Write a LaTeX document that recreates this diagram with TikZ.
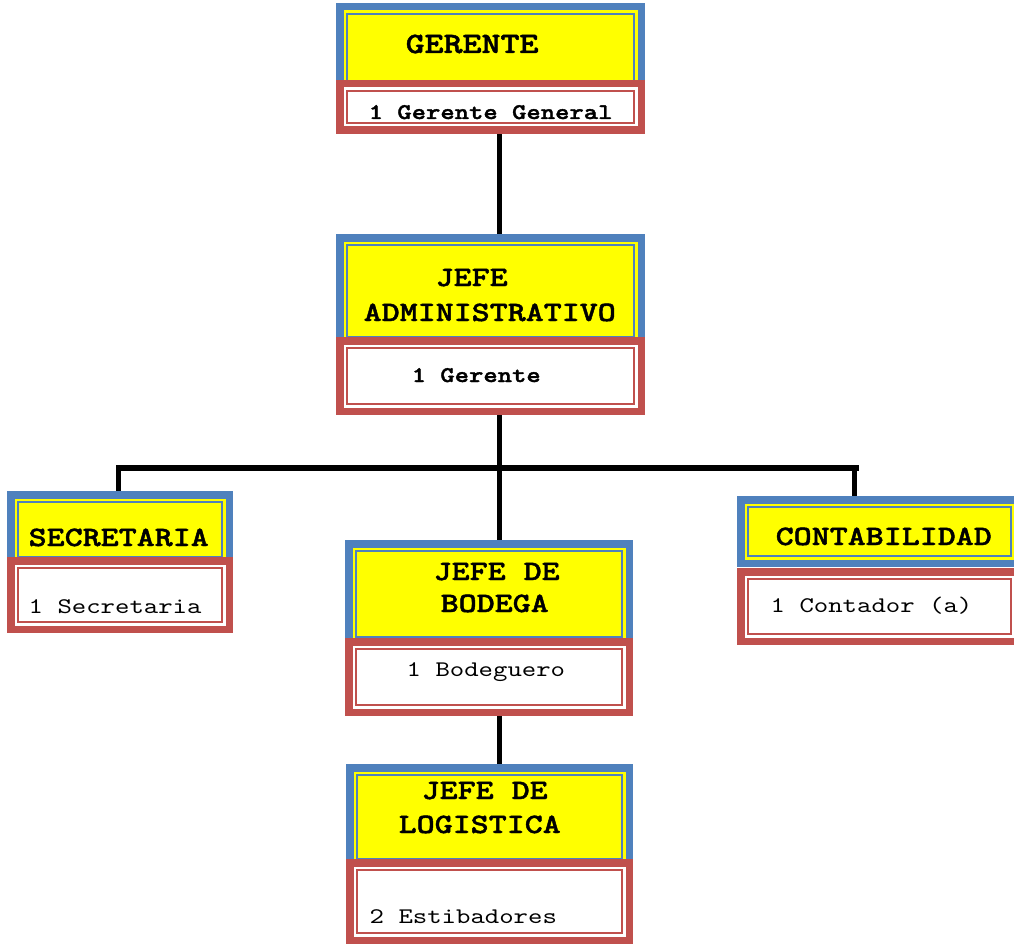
\documentclass[tikz,border=0pt]{standalone}
\usepackage{fontspec}
% slab-serif typewriter faces, widened to the proportions of a Courier-style face
\newfontfamily\orgfont{lmmono10-regular.otf}[FakeStretch=1.23]
\newfontfamily\orgboldfont{lmmonolt10-bold.otf}[FakeStretch=1.225, FakeBold=1.6]
\usetikzlibrary{backgrounds}
\definecolor{hblue}{HTML}{4F81BD}
\definecolor{hred}{HTML}{C0504D}
\definecolor{hyellow}{HTML}{FFFF00}

\tikzset{
  % box with a thick outer border and a thin inner border line
  tier/.style 2 args={rectangle, anchor=north west, inner sep=0pt, outer sep=0pt,
    draw=#1, fill=#2, line width=7.5pt,
    path picture={\draw[#1, line width=2.4pt]
      ([shift={(7.2pt,7.2pt)}]path picture bounding box.south west) rectangle
      ([shift={(-7.2pt,-7.2pt)}]path picture bounding box.north east);}},
  headbox/.style={tier={hblue}{hyellow}},
  staffbox/.style={tier={hred}{white}},
  title/.style={anchor=base west, inner sep=0pt, font=\orgboldfont\fontsize{28}{32}\selectfont},
  bigtitle/.style={title, font=\orgboldfont\fontsize{29.5}{34}\selectfont},
  staff/.style={anchor=base west, inner sep=0pt, font=\orgfont\fontsize{22.3}{26}\selectfont},
  staffbold/.style={staff, font=\orgboldfont\fontsize{22.3}{26}\selectfont},
  link/.style={line width=5pt, black},
  barlink/.style={line width=6pt, black},
}

\begin{document}
\begin{tikzpicture}[x=1pt,y=-1pt]
\useasboundingbox (0,0) rectangle (1014,944);

% GERENTE
\node[headbox,  minimum width=301.5pt, minimum height=81.5pt]  (gerH) at (339.75,6.75) {};
\node[staffbox, minimum width=301.5pt, minimum height=46.5pt]  (gerS) at (339.75,83.75) {};
% JEFE ADMINISTRATIVO
\node[headbox,  minimum width=301.5pt, minimum height=106.5pt] (admH) at (339.75,237.75) {};
\node[staffbox, minimum width=301.5pt, minimum height=70.5pt]  (admS) at (339.75,340.75) {};
% SECRETARIA
\node[headbox,  minimum width=218.5pt, minimum height=69.5pt]  (secH) at (10.75,494.75) {};
\node[staffbox, minimum width=218.5pt, minimum height=68.5pt]  (secS) at (10.75,560.75) {};
% JEFE DE BODEGA
\node[headbox,  minimum width=280.5pt, minimum height=100.5pt] (bodH) at (348.75,543.75) {};
\node[staffbox, minimum width=280.5pt, minimum height=70.5pt]  (bodS) at (348.75,641.75) {};
% CONTABILIDAD
\node[headbox,  minimum width=277.5pt, minimum height=63.5pt]  (conH) at (740.75,499.75) {};
\node[staffbox, minimum width=277.5pt, minimum height=69.5pt]  (conS) at (740.75,571.75) {};
% JEFE DE LOGISTICA
\node[headbox,  minimum width=279.5pt, minimum height=98.5pt]  (logH) at (349.75,767.75) {};
\node[staffbox, minimum width=279.5pt, minimum height=77.5pt]  (logS) at (349.75,862.75) {};

% labels
\node[bigtitle]  (gerT)  at (405.5,53)  {GERENTE};
\node[staffbold] (gerN)  at (368.5,119) {1 Gerente General};
\node[title]     (admT1) at (435.5,286) {JEFE};
\node[title]     (admT2) at (363.5,321) {ADMINISTRATIVO};
\node[staffbold] (admN)  at (411.5,382) {1 Gerente};
\node[title]     (secT)  at (28.5,546)  {SECRETARIA};
\node[staff]     (secN)  at (28.5,613)  {1 Secretaria};
\node[title]     (bodT1) at (433.5,580) {JEFE DE};
\node[title]     (bodT2) at (440.5,612) {BODEGA};
\node[staff]     (bodN)  at (406.5,676) {1 Bodeguero};
\node[title]     (conT)  at (775.5,545) {CONTABILIDAD};
\node[staff]     (conN)  at (770.5,612) {1 Contador (a)};
\node[title]     (logT1) at (421.5,799) {JEFE DE};
\node[title]     (logT2) at (398.5,833) {LOGISTICA};
\node[staff]     (logN)  at (369.5,923) {2 Estibadores};

% connectors
\begin{scope}[on background layer]
  \coordinate (spine)   at (499.5,0);
  \coordinate (barL)    at (116,468);
  \coordinate (barR)    at (859,468);
  \coordinate (secDrop) at (118.5,468);
  \coordinate (conDrop) at (854,468);
  \draw[link] (spine |- gerS.south) -- (spine |- admH.north);
  \draw[link] (spine |- admS.south) -- (spine |- bodH.north);
  \draw[barlink] (barL) -- (barR);
  \draw[link] (secDrop) -- (secDrop |- secH.north);
  \draw[link] (conDrop) -- (conDrop |- conH.north);
  \draw[link] (spine |- bodS.south) -- (spine |- logH.north);
\end{scope}
\end{tikzpicture}
\end{document}
